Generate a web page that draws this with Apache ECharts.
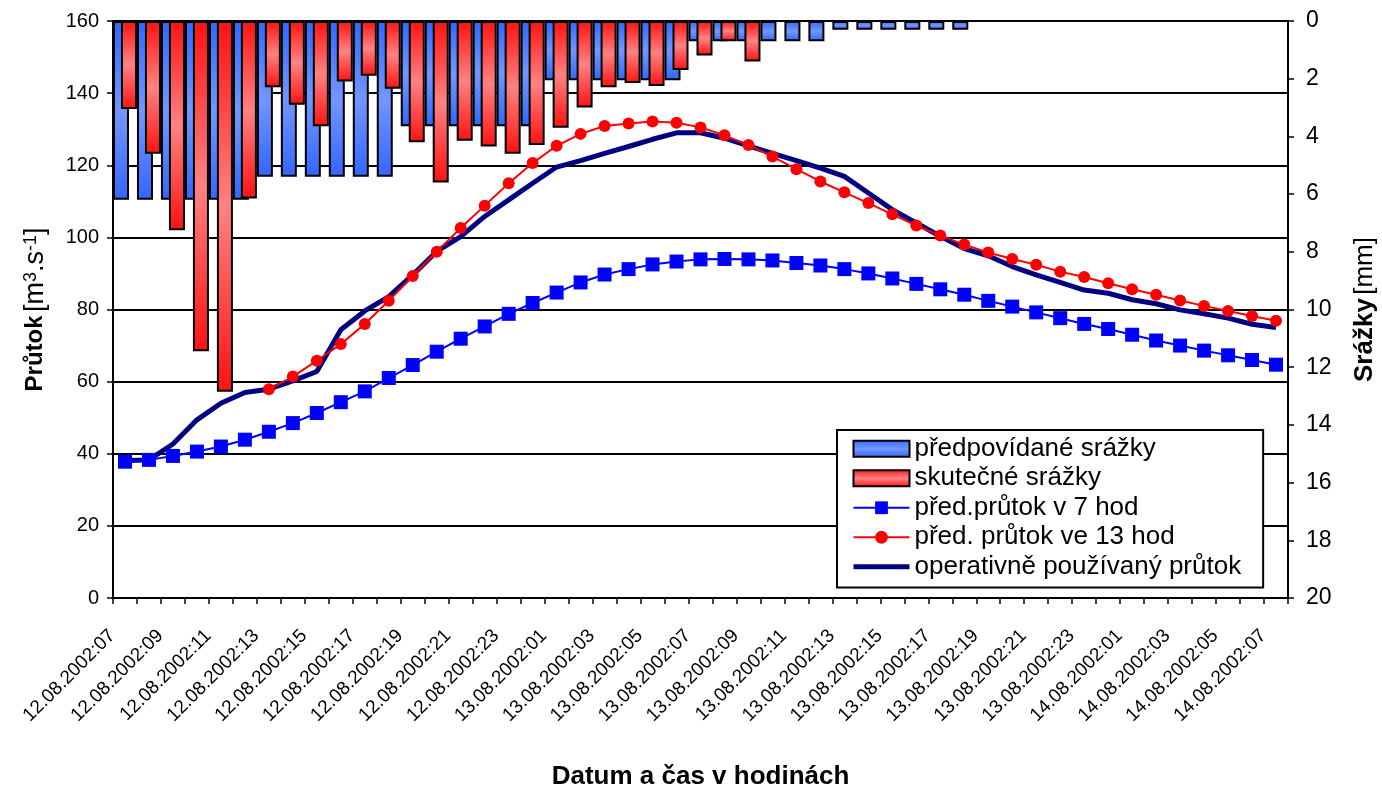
<!DOCTYPE html>
<html>
<head>
<meta charset="utf-8">
<script src="https://cdn.jsdelivr.net/npm/echarts@6/dist/echarts.min.js"></script>
<style>
html,body{margin:0;padding:0;background:#fff;}
#chart{width:1382px;height:793px;}
</style>
</head>
<body>
<div id="chart"></div>
<script>
const categories = [
  "12.08.2002:07","12.08.2002:08","12.08.2002:09","12.08.2002:10","12.08.2002:11","12.08.2002:12",
  "12.08.2002:13","12.08.2002:14","12.08.2002:15","12.08.2002:16","12.08.2002:17","12.08.2002:18",
  "12.08.2002:19","12.08.2002:20","12.08.2002:21","12.08.2002:22","12.08.2002:23",
  "13.08.2002:00","13.08.2002:01","13.08.2002:02","13.08.2002:03","13.08.2002:04","13.08.2002:05",
  "13.08.2002:06","13.08.2002:07","13.08.2002:08","13.08.2002:09","13.08.2002:10","13.08.2002:11",
  "13.08.2002:12","13.08.2002:13","13.08.2002:14","13.08.2002:15","13.08.2002:16","13.08.2002:17",
  "13.08.2002:18","13.08.2002:19","13.08.2002:20","13.08.2002:21","13.08.2002:22","13.08.2002:23",
  "14.08.2002:00","14.08.2002:01","14.08.2002:02","14.08.2002:03","14.08.2002:04","14.08.2002:05",
  "14.08.2002:06","14.08.2002:07"
];

// předpovídané srážky [mm]
const predpovidaneSrazky = [
  6.2, 6.2, 6.2, 6.2, 6.2, 6.2,
  5.4, 5.4, 5.4, 5.4, 5.4, 5.4,
  3.65, 3.65, 3.65, 3.65, 3.65, 3.65,
  2.05, 2.05, 2.05, 2.05, 2.05, 2.05,
  0.7, 0.7, 0.7, 0.7, 0.7, 0.7,
  0.3, 0.3, 0.3, 0.3, 0.3, 0.3,
  0, 0, 0, 0, 0, 0, 0, 0, 0, 0, 0, 0, 0
];

// skutečné srážky [mm]
const skutecneSrazky = [
  3.05, 4.6, 7.25, 11.45, 12.85, 6.15,
  2.3, 2.9, 3.65, 2.1, 1.9, 2.35,
  4.2, 5.6, 4.15, 4.35, 4.6, 4.3,
  3.7, 3.0, 2.3, 2.15, 2.25, 1.7,
  1.2, 0.7, 1.4, 0, 0, 0,
  0, 0, 0, 0, 0, 0,
  0, 0, 0, 0, 0, 0, 0, 0, 0, 0, 0, 0, 0
];

// před.průtok v 7 hod [m3/s]
const predPrutok7 = [
  37.8, 38.3, 39.4, 40.6, 42.0, 43.9, 46.1, 48.5, 51.3, 54.3,
  57.3, 61.0, 64.6, 68.3, 71.9, 75.3, 78.8, 81.8, 84.7, 87.5,
  89.7, 91.2, 92.5, 93.3, 93.9, 94.0, 93.9, 93.6, 92.9, 92.2,
  91.2, 90.0, 88.6, 87.1, 85.6, 84.1, 82.4, 80.8, 79.2, 77.6,
  76.0, 74.6, 73.0, 71.4, 70.0, 68.6, 67.3, 66.0, 64.7
];

// před. průtok ve 13 hod [m3/s]
const predPrutok13 = [
  null, null, null, null, null, null, 57.9, 61.4, 65.8, 70.4,
  76.0, 82.4, 89.3, 96.0, 102.6, 108.8, 115.0, 120.6, 125.4, 128.7,
  130.9, 131.6, 132.1, 131.8, 130.5, 128.3, 125.6, 122.4, 118.9, 115.5,
  112.5, 109.5, 106.4, 103.3, 100.5, 98.0, 95.8, 94.0, 92.4, 90.5,
  89.0, 87.3, 85.6, 84.1, 82.5, 81.0, 79.6, 78.2, 76.9
];

// operativně používaný průtok [m3/s]
const operativniPrutok = [
  38.1, 38.3, 42.7, 49.4, 54.0, 57.0, 57.9, 60.2, 62.8, 74.4,
  79.6, 83.6, 89.6, 96.1, 100.2, 105.8, 110.4, 115.0, 119.5, 121.3,
  123.3, 125.2, 127.2, 129.0, 129.0, 127.5, 125.4, 123.3, 121.3, 119.2,
  116.9, 112.3, 107.7, 104.0, 100.3, 96.9, 94.9, 91.9, 89.6, 87.5,
  85.4, 84.5, 82.7, 81.6, 79.9, 78.8, 77.6, 75.9, 75.0
];

const FONT = '"Liberation Sans", Arial, sans-serif';

function vGrad(dark, light) {
  return new echarts.graphic.LinearGradient(0, 0, 0, 1, [
    {offset: 0, color: dark},
    {offset: 0.5, color: light},
    {offset: 1, color: dark}
  ]);
}

const chart = echarts.init(document.getElementById('chart'), null, {renderer: 'canvas'});

const option = {
  animation: false,
  backgroundColor: '#fff',
  textStyle: {fontFamily: FONT, color: '#000'},
  grid: {left: 113, right: 94, top: 21, bottom: 195, containLabel: false, outerBoundsMode: 'none'},
  legend: {
    orient: 'vertical',
    left: 837,
    top: 430,
    padding: [4, 22, 6, 14],
    itemGap: 0,
    itemWidth: 56,
    itemHeight: 16,
    backgroundColor: '#fff',
    borderColor: '#000',
    borderWidth: 2,
    textStyle: {fontFamily: FONT, fontSize: 26, color: '#000', lineHeight: 29.5},
    data: [
      {name: 'předpovídané srážky', icon: 'rect'},
      {name: 'skutečné srážky', icon: 'rect'},
      {name: 'před.průtok v 7 hod'},
      {name: 'před. průtok ve 13 hod'},
      {name: 'operativně používaný průtok', itemStyle: {opacity: 0}, lineStyle: {width: 5, color: '#000080'}}
    ]
  },
  xAxis: {
    type: 'category',
    data: categories,
    boundaryGap: true,
    axisLine: {show: true, lineStyle: {color: '#000', width: 2}},
    axisTick: {show: true, interval: 0, length: 6, lineStyle: {color: '#000', width: 1.5}},
    axisLabel: {
      interval: 1, rotate: 45, fontSize: 19, color: '#000', fontFamily: FONT,
      margin: 22, padding: [0, 18, 0, 0]
    },
    name: 'Datum a čas v hodinách',
    nameLocation: 'middle',
    nameGap: 166,
    nameTextStyle: {fontFamily: FONT, fontSize: 26, fontWeight: 'bold', color: '#000'}
  },
  yAxis: [
    {
      type: 'value',
      position: 'left',
      min: 0, max: 160, interval: 20,
      axisLine: {show: true, lineStyle: {color: '#000', width: 2}},
      axisTick: {show: true, length: 6, lineStyle: {color: '#000', width: 1.5}},
      axisLabel: {fontSize: 20, color: '#000', margin: 14, fontFamily: FONT},
      splitLine: {show: true, lineStyle: {color: '#000', width: 2}},
      name: '{b|Průtok} {n|[m}{s|3}{n|.s}{s|-1}{n|]}',
      nameLocation: 'middle',
      nameRotate: 90,
      nameGap: 64,
      nameTextStyle: {
        fontFamily: FONT, color: '#000',
        rich: {
          b: {fontFamily: FONT, fontSize: 24, fontWeight: 'bold', color: '#000'},
          n: {fontFamily: FONT, fontSize: 27, color: '#000'},
          s: {fontFamily: FONT, fontSize: 18, color: '#000', verticalAlign: 'top'}
        }
      }
    },
    {
      type: 'value',
      position: 'right',
      inverse: true,
      min: 0, max: 20, interval: 2,
      axisLine: {show: true, lineStyle: {color: '#000', width: 2}},
      axisTick: {show: true, length: 6, lineStyle: {color: '#000', width: 1.5}},
      axisLabel: {fontSize: 23, color: '#000', margin: 18, fontFamily: FONT},
      splitLine: {show: false},
      name: '{b|Srážky} {n|[mm]}',
      nameLocation: 'middle',
      nameRotate: 90,
      nameGap: 64,
      nameTextStyle: {
        fontFamily: FONT, color: '#000',
        rich: {
          b: {fontFamily: FONT, fontSize: 26, fontWeight: 'bold', color: '#000'},
          n: {fontFamily: FONT, fontSize: 26, color: '#000'}
        }
      }
    }
  ],
  series: [
    {
      name: 'předpovídané srážky',
      type: 'bar',
      yAxisIndex: 1,
      data: predpovidaneSrazky,
      barWidth: 16,
      barGap: '-50%',
      itemStyle: {color: vGrad('#3366FF', '#7396FF'), borderColor: '#000', borderWidth: 2}
    },
    {
      name: 'skutečné srážky',
      type: 'bar',
      yAxisIndex: 1,
      data: skutecneSrazky,
      barWidth: 16,
      barGap: '-50%',
      itemStyle: {color: vGrad('#FF1212', '#FF8282'), borderColor: '#000', borderWidth: 2}
    },
    {
      name: 'operativně používaný průtok',
      type: 'line',
      yAxisIndex: 0,
      data: operativniPrutok,
      symbol: 'none',
      lineStyle: {color: '#000080', width: 5},
      itemStyle: {color: '#000080'}
    },
    {
      name: 'před.průtok v 7 hod',
      type: 'line',
      yAxisIndex: 0,
      data: predPrutok7,
      symbol: 'rect',
      symbolSize: 14,
      showAllSymbol: true,
      lineStyle: {color: '#0000FF', width: 2},
      itemStyle: {color: '#0000FF'}
    },
    {
      name: 'před. průtok ve 13 hod',
      type: 'line',
      yAxisIndex: 0,
      data: predPrutok13,
      symbol: 'circle',
      symbolSize: 12,
      showAllSymbol: true,
      lineStyle: {color: '#FF0000', width: 2},
      itemStyle: {color: '#FF0000'}
    }
  ]
};

chart.setOption(option);
</script>
</body>
</html>
